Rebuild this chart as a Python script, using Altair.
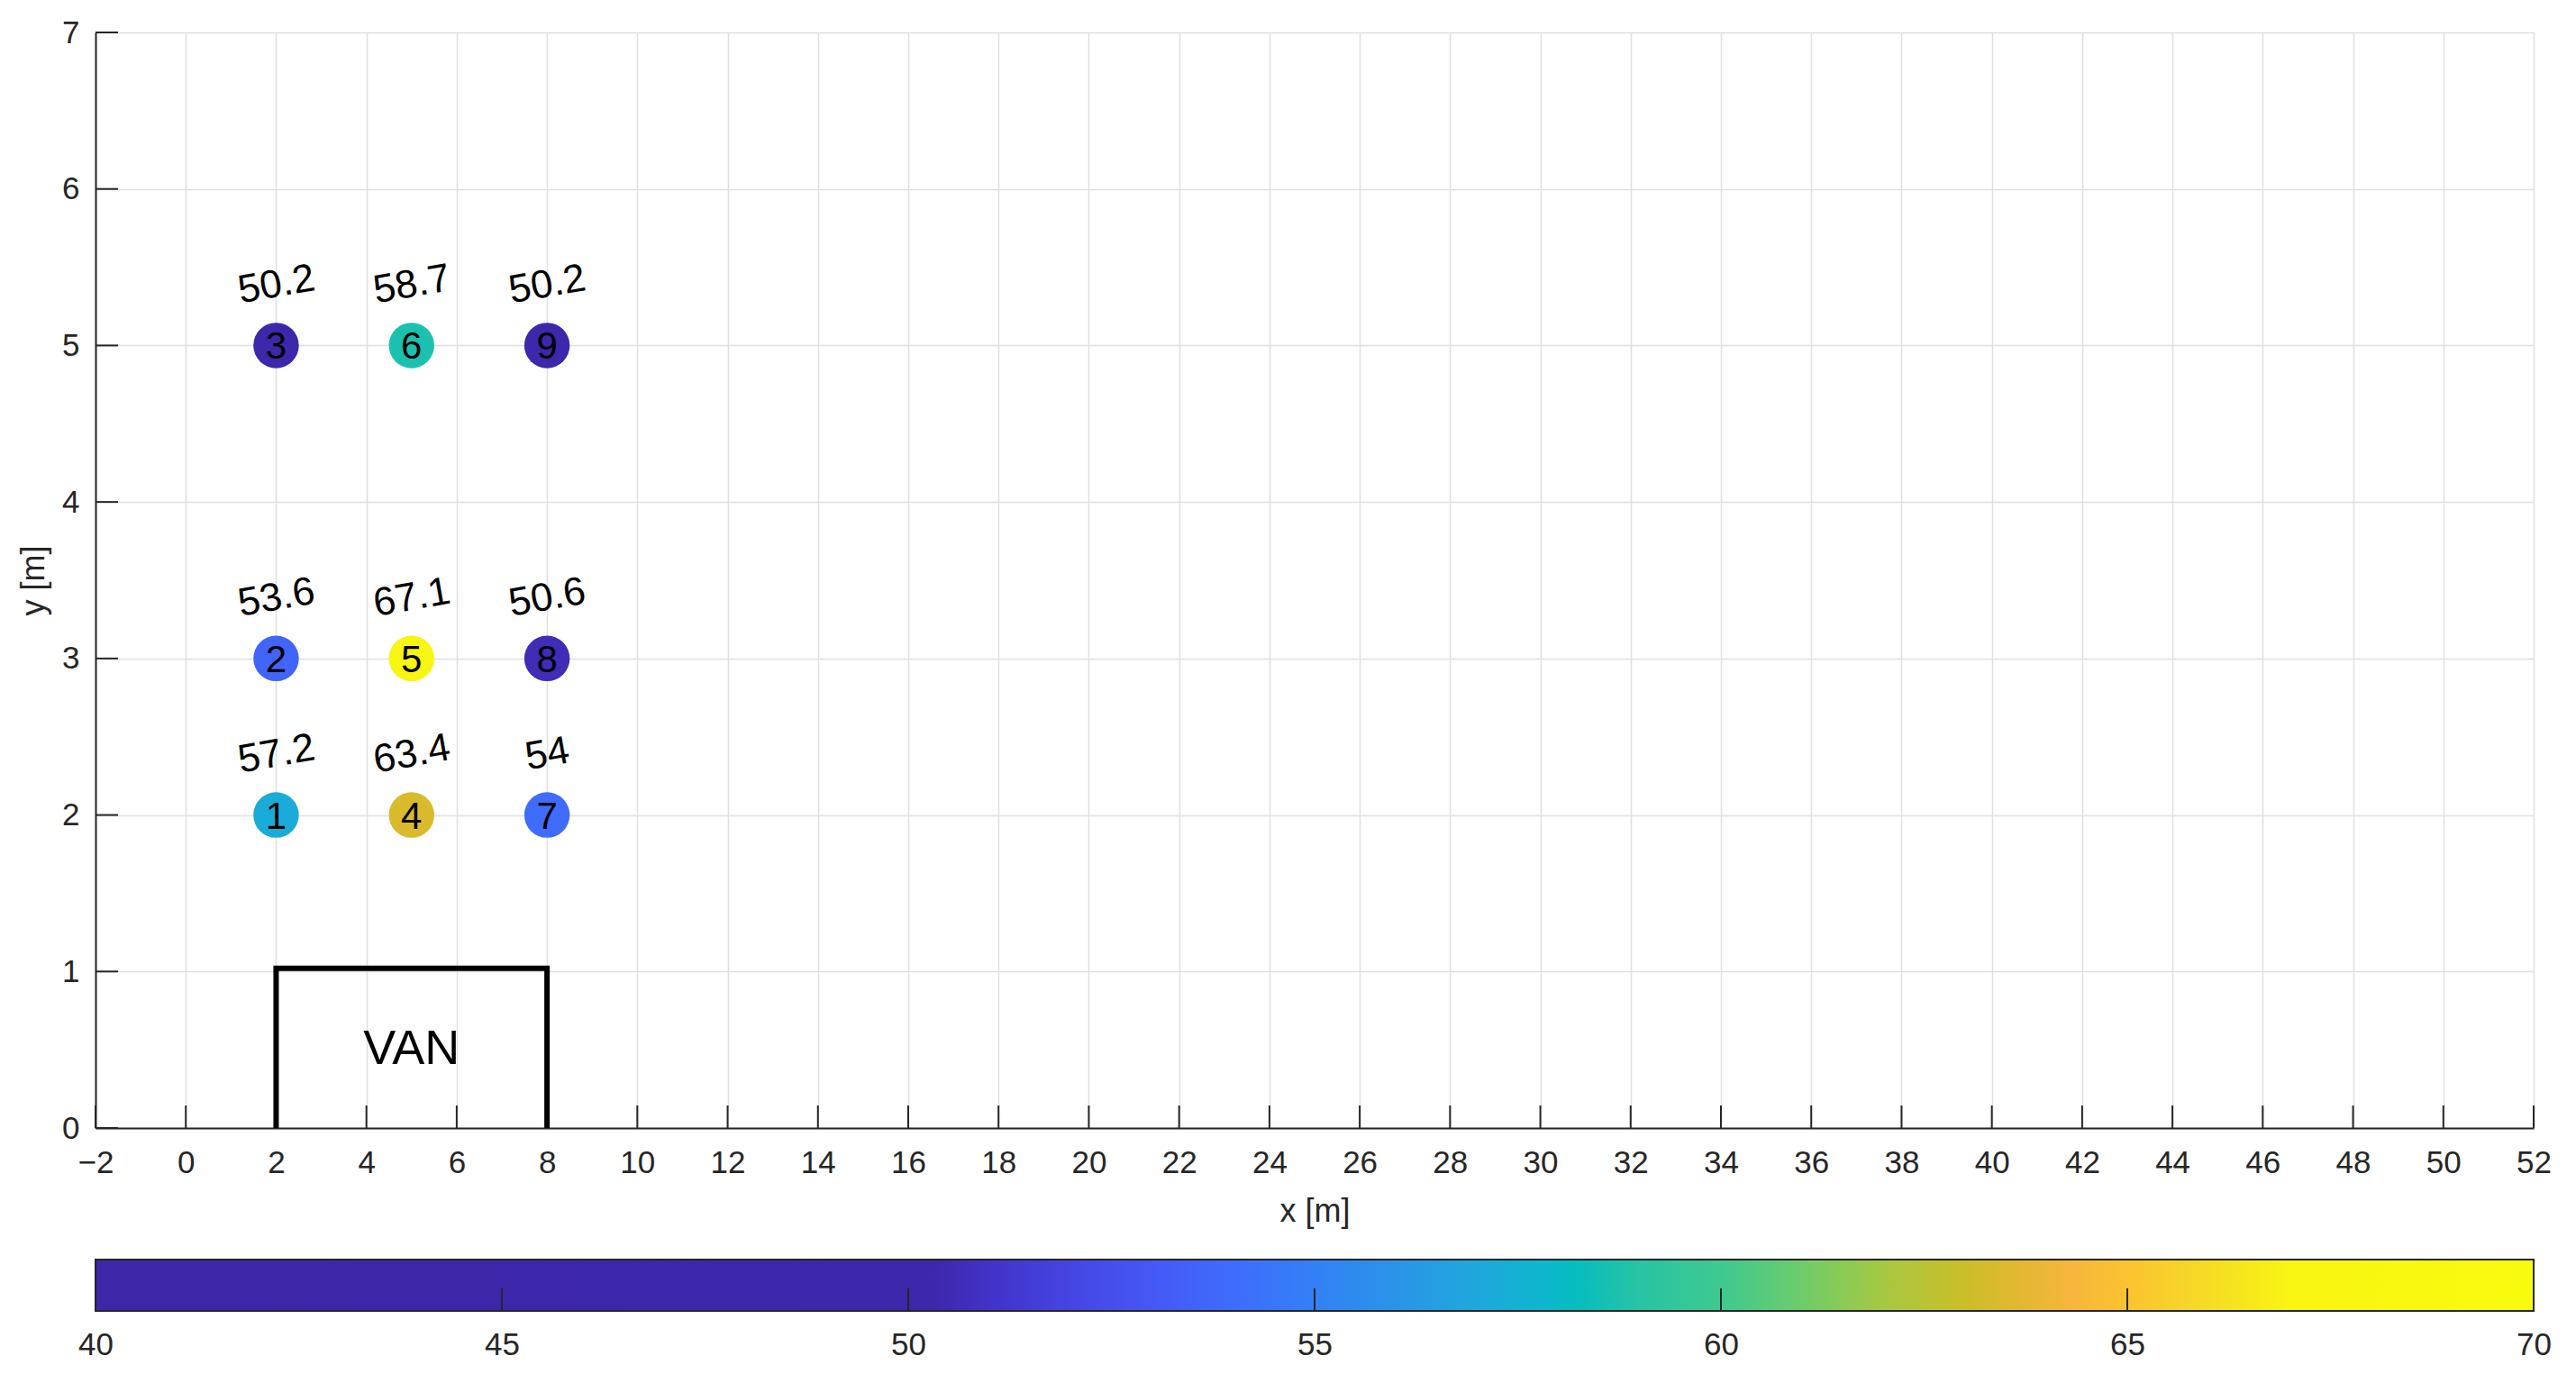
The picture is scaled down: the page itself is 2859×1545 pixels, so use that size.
import altair as alt
import pandas as pd

# ---------------- data ----------------
point_ids = [1, 2, 3, 4, 5, 6, 7, 8, 9]
point_x = [2, 2, 2, 5, 5, 5, 8, 8, 8]
point_y = [2, 3, 5, 2, 3, 5, 2, 3, 5]
point_values = [57.2, 53.6, 50.2, 63.4, 67.1, 58.7, 54.0, 50.6, 50.2]
point_labels = ["57.2", "53.6", "50.2", "63.4", "67.1", "58.7", "54", "50.6", "50.2"]

van_order = [0, 1, 2, 3]
van_x = [2, 2, 8, 8]
van_y = [0, 1.02, 1.02, 0]
van_text = ["VAN"]
van_text_x = [5]
van_text_y = [0.5]

x_ticks = list(range(-2, 53, 2))
y_ticks = list(range(0, 8))
cbar_ticks = [40, 45, 50, 55, 60, 65, 70]

# colormap
cmap_values = [40, 50.3, 51, 52, 53, 54, 55, 56, 57, 57.7, 58.2, 59, 60, 61, 62, 63,
               63.6, 64.3, 65, 66, 67, 70]
cmap_colors = ["#3d26a8", "#3d27aa", "#4232c8", "#4545e2", "#4558f5", "#3f6cfc", "#3380f6",
               "#2a94e8", "#1fa8dc", "#10b4d0", "#05bcc0", "#28c4a4", "#3ec990", "#6ecc6a",
               "#a6c842", "#cbbe28", "#e0b830", "#f6b63c", "#fbc330", "#f5dc25", "#f8f512",
               "#f9fb0e"]

W = 2706
H = 1216
CB_H = 57
TICK = 25
FONT = "Liberation Sans"
AX = "#262626"

df_points = pd.DataFrame({"id": point_ids, "x": point_x, "y": point_y,
                          "value": point_values, "label": point_labels})
df_van = pd.DataFrame({"o": van_order, "x": van_x, "y": van_y})
df_van_text = pd.DataFrame({"t": van_text, "x": van_text_x, "y": van_text_y})
df_xt = pd.DataFrame({"t": x_ticks})
df_yt = pd.DataFrame({"t": y_ticks})
df_ct = pd.DataFrame({"t": cbar_ticks})

xscale = alt.Scale(domain=[-2, 52], nice=False, zero=False)
yscale = alt.Scale(domain=[0, 7], nice=False, zero=False)
cscale = alt.Scale(domain=cmap_values, range=cmap_colors, interpolate="rgb")

xaxis = alt.Axis(values=x_ticks, format="d", title="x [m]", grid=True, tickSize=0,
                 labelPadding=21, titlePadding=19, labelFlush=False)
yaxis = alt.Axis(values=y_ticks, format="d", title="y [m]", grid=True, tickSize=0,
                 labelPadding=18, titlePadding=12)

base = alt.Chart(df_points)
points = base.mark_circle(size=2550, opacity=1).encode(
    x=alt.X("x:Q", scale=xscale, axis=xaxis),
    y=alt.Y("y:Q", scale=yscale, axis=yaxis),
    color=alt.Color("value:Q", scale=cscale, legend=None),
)
ids = base.mark_text(fontSize=42, font=FONT, color="black", align="center",
                     baseline="middle", dy=2).encode(
    x="x:Q", y="y:Q", text="id:N")
vals = base.mark_text(fontSize=44, font=FONT, color="black", align="center",
                      baseline="middle", angle=350, dx=12, dy=-66).encode(
    x="x:Q", y="y:Q", text="label:N")

van = alt.Chart(df_van).mark_line(color="black", strokeWidth=6, strokeJoin="miter").encode(
    x="x:Q", y="y:Q", order="o:Q")
van_lbl = alt.Chart(df_van_text).mark_text(fontSize=54, font=FONT, color="black",
                                           align="center", baseline="middle").encode(
    x="x:Q", y="y:Q", text="t:N")

xt = alt.Chart(df_xt).mark_rule(color=AX, strokeWidth=2).encode(
    x=alt.X("t:Q"), y=alt.value(H), y2=alt.value(H - TICK))
yt = alt.Chart(df_yt).mark_rule(color=AX, strokeWidth=2).encode(
    y=alt.Y("t:Q"), x=alt.value(0), x2=alt.value(TICK))

main = alt.layer(xt, yt, van, van_lbl, points, ids, vals).properties(width=W, height=H)

# ---------------- colour bar ----------------
stops = [{"offset": (v - 40) / 30.0, "color": c} for v, c in zip(cmap_values, cmap_colors)]
gradient = {"gradient": "linear", "x1": 0, "x2": 1, "y1": 0, "y2": 0, "stops": stops}

cb_scale = alt.Scale(domain=[40, 70], nice=False, zero=False)
cbar_rect = alt.Chart(pd.DataFrame({"lo": [40], "hi": [70]})).mark_rect(
    fill=gradient, stroke=AX, strokeWidth=2).encode(
    x=alt.X("lo:Q", scale=cb_scale,
            axis=alt.Axis(values=cbar_ticks, format="d", title=None, grid=False, tickSize=0,
                          domain=False, labelPadding=20, labelFlush=False)),
    x2="hi:Q",
)
cbar_ticks_layer = alt.Chart(df_ct).mark_rule(color=AX, strokeWidth=2).encode(
    x=alt.X("t:Q", scale=cb_scale), y=alt.value(CB_H), y2=alt.value(CB_H - TICK))
cbar = alt.layer(cbar_rect, cbar_ticks_layer).properties(width=W, height=CB_H)

chart = alt.vconcat(main, cbar, spacing=146, bounds="flush").resolve_scale(
    x="independent", color="independent"
).properties(
    padding={"left": 11, "top": 11, "right": 5, "bottom": 5}
).configure_view(stroke=None).configure_axis(
    labelFont=FONT, labelFontSize=35, labelColor=AX,
    titleFont=FONT, titleFontSize=36, titleColor=AX, titleFontWeight="normal",
    domainColor=AX, domainWidth=2, gridColor="#e0e0e0", gridWidth=1.5,
)

chart.save("out.html", embed_options={"renderer": "svg", "actions": False})
